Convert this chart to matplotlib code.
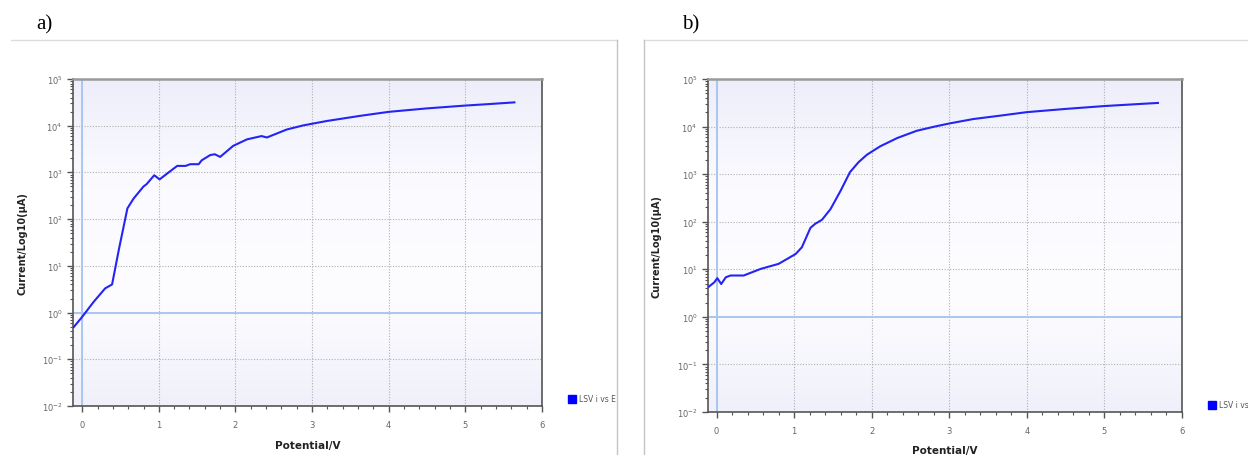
import matplotlib
matplotlib.use("Agg")
import matplotlib.pyplot as plt
import numpy as np
from matplotlib.lines import Line2D
from matplotlib.colors import LinearSegmentedColormap
from matplotlib.ticker import FixedLocator, MultipleLocator, NullFormatter

# LSV sweeps: potential (V) vs current (uA)
a_volt = [-0.11, 0.0, 0.15, 0.30, 0.39, 0.48, 0.59, 0.67, 0.80, 0.84, 0.94, 1.01,
          1.11, 1.24, 1.35, 1.41, 1.52, 1.56, 1.67, 1.73, 1.80, 1.97, 2.15, 2.34,
          2.41, 2.67, 2.89, 3.19, 3.62, 4.0, 4.5, 5.0, 5.3, 5.64]
a_curr = [0.49, 0.81, 1.7, 3.3, 4.0, 23, 170, 275, 500, 560, 870, 710,
          950, 1380, 1380, 1500, 1500, 1820, 2350, 2450, 2150, 3700, 5100, 6000,
          5600, 8300, 10200, 12600, 16200, 19800, 23500, 27000, 29000, 31600]

b_volt = [-0.10, -0.03, 0.01, 0.06, 0.12, 0.18, 0.35, 0.57, 0.80, 0.91, 1.02, 1.10,
          1.21, 1.27, 1.36, 1.47, 1.60, 1.72, 1.83, 1.94, 2.11, 2.33, 2.58, 2.80,
          3.01, 3.31, 3.66, 4.0, 4.5, 5.0, 5.4, 5.69]
b_curr = [4.3, 5.3, 6.5, 4.9, 6.8, 7.4, 7.4, 10.2, 13, 16.5, 21, 29,
          74, 90, 110, 185, 450, 1100, 1780, 2570, 3850, 5750, 8150, 9900,
          11700, 14400, 17000, 20100, 23500, 27000, 29500, 31400]

x_ticks = [0, 1, 2, 3, 4, 5, 6]
y_ticks = [1e-2, 1e-1, 1e0, 1e1, 1e2, 1e3, 1e4, 1e5]
series_name = "LSV i vs E"
y_label = "Current/Log10(\u03bcA)"
x_label = "Potential/V"

W, H = 1248, 456
fig = plt.figure(figsize=(W / 100, H / 100), dpi=100)


def fx(px):
    return px / W


def fy(py):
    return 1 - py / H


bg = LinearSegmentedColormap.from_list("bg", ["#eeeefb", "#fbfbff", "#fdfdff", "#f0f0fb"])


def panel(rect, volt, curr, tag, tag_x, ylab_x, xlab_y, leg_x, leg_y):
    ax = fig.add_axes(rect)
    ax.set_yscale("log")
    ax.set_xlim(volt[0] - 0.01, 6)
    ax.set_ylim(1e-2, 1e5)
    grad = np.linspace(0, 1, 256).reshape(-1, 1)
    ax.imshow(grad, cmap=bg, aspect="auto", extent=[0, 1, 0, 1],
              transform=ax.transAxes, zorder=0)
    ax.grid(True, which="major", ls=(0, (1, 1.5)), color="#b0b0b0", lw=0.8, zorder=1)
    ax.axhline(1, color="#a9c6f2", lw=1.4, zorder=2)
    ax.axvline(0, color="#a9c6f2", lw=1.4, zorder=2)
    ax.plot(volt, curr, color="#2424f4", lw=1.5, zorder=3)

    ax.set_xticks(x_ticks)
    ax.xaxis.set_minor_locator(MultipleLocator(0.2))
    ax.set_yticks(y_ticks)
    minor = [m * 10.0 ** e for e in range(-2, 5) for m in range(2, 10)]
    ax.yaxis.set_minor_locator(FixedLocator(minor))
    ax.yaxis.set_minor_formatter(NullFormatter())
    ax.tick_params(which="both", direction="out", colors="#555555",
                   labelcolor="#666666", labelsize=6)
    ax.tick_params(which="major", length=4, width=1)
    ax.tick_params(which="minor", length=2, width=0.8)
    ax.tick_params(axis="x", pad=6)

    for s in ["left", "bottom", "right"]:
        ax.spines[s].set_color("#555555")
        ax.spines[s].set_linewidth(1.2)
    ax.spines["top"].set_color("#999999")
    ax.spines["top"].set_linewidth(1.8)

    fig.text(fx(ylab_x), rect[1] + rect[3] / 2, y_label, rotation=90, ha="center",
             va="center", fontsize=7, fontweight="bold", color="#222222")
    fig.text(rect[0] + rect[2] / 2, fy(xlab_y), x_label, ha="center", va="center",
             fontsize=7.5, fontweight="bold", color="#222222")
    fig.text(fx(tag_x), fy(25), tag, ha="left", va="center", fontsize=15,
             family="Liberation Serif")

    handle = Line2D([], [], marker="s", ls="none", color="#0000ff", markersize=6)
    fig.legend([handle], [series_name], loc="center left",
               bbox_to_anchor=(fx(leg_x), fy(leg_y)), frameon=False, fontsize=5.5,
               handletextpad=0.5, borderaxespad=0, borderpad=0,
               labelcolor="#555555", handlelength=0.8)
    return ax


panel([fx(73), fy(407), fx(542) - fx(73), fy(80) - fy(407)], a_volt, a_curr,
      "a)", 36, 23, 446, 569, 400)
panel([fx(708), fy(413), fx(1182) - fx(708), fy(80) - fy(413)], b_volt, b_curr,
      "b)", 682, 657, 451, 1209, 406)

# panel frames
fig.add_artist(Line2D([fx(11), fx(617)], [fy(41), fy(41)], color="#dcdcdc", lw=1))
fig.add_artist(Line2D([fx(617), fx(617)], [fy(41), 0], color="#c4c4c4", lw=1))
fig.add_artist(Line2D([fx(644), 1], [fy(41), fy(41)], color="#dcdcdc", lw=1))
fig.add_artist(Line2D([fx(644), fx(644)], [fy(41), 0], color="#c4c4c4", lw=1))

fig.savefig("out.png", dpi=100)
